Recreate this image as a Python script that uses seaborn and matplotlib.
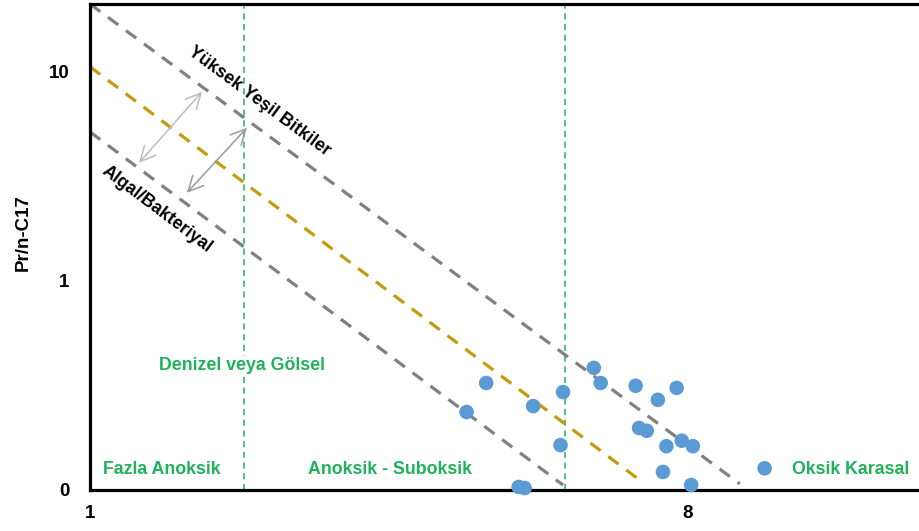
import numpy as np
import pandas as pd
import matplotlib
matplotlib.use("Agg")
import matplotlib.pyplot as plt
import seaborn as sns

# Sample measurements: Ph/n-C18 (x) and Pr/n-C17 (y)
ph_c18 = [5.64, 5.41, 6.19, 6.54, 6.51, 6.02, 6.09, 6.90, 6.98,
          7.39, 7.87, 7.65, 7.43, 7.52, 7.75, 7.93, 8.06, 7.71, 8.04, 8.90]
pr_c17 = [0.325, 0.236, 0.252, 0.294, 0.164, 0.1034, 0.1022, 0.384, 0.325,
          0.315, 0.308, 0.270, 0.198, 0.192, 0.162, 0.172, 0.162, 0.122, 0.1057, 0.127]

# Source boundary lines (end points)
upper_x = [1.0, 8.61]
upper_y = [21.1, 0.107]
mid_x = [1.0, 7.47]
mid_y = [10.57, 0.109]
lower_x = [1.0, 6.54]
lower_y = [5.16, 0.1056]

# Redox boundaries
redox_x = [2.80, 6.56]

x_ticks = [1, 8]
x_tick_labels = ["1", "8"]
y_ticks = [0.1, 1, 10]
y_tick_labels = ["0", "1", "10"]

sns.set_theme(style="white")
plt.rcParams["font.family"] = ["Liberation Sans", "DejaVu Sans"]

fig = plt.figure(figsize=(9.2, 5.31), dpi=100)
ax = fig.add_axes([90 / 920, 41 / 531, 830 / 920, 486 / 531])
ax.set_yscale("log")
ax.set_xlim(1, 10.72)
ax.set_ylim(0.1, 21.1)

green = "#1FB25A"
for xv in redox_x:
    ax.axvline(xv, color=green, lw=1.1, dashes=(4, 3), zorder=1)

gray = "#808080"
gold = "#C49A0E"
sns.lineplot(x=upper_x, y=upper_y, ax=ax, color=gray, lw=2.3, zorder=2).lines[-1].set_dashes((4, 3))
sns.lineplot(x=mid_x, y=mid_y, ax=ax, color=gold, lw=2.3, zorder=2).lines[-1].set_dashes((4, 3))
sns.lineplot(x=lower_x, y=lower_y, ax=ax, color=gray, lw=2.3, zorder=2).lines[-1].set_dashes((4, 3))

df = pd.DataFrame({"Ph/n-C18": ph_c18, "Pr/n-C17": pr_c17})
sns.scatterplot(data=df, x="Ph/n-C18", y="Pr/n-C17", ax=ax, color="#5B9BD5",
                s=110, edgecolor="none", zorder=5, clip_on=False)

# Double-headed arrows between source fields
ax.annotate("", xy=(2.311, 8.02), xytext=(1.574, 3.67),
            arrowprops=dict(arrowstyle="<->,head_length=0.9,head_width=0.45",
                            color="#BDBDBD", lw=1.1, shrinkA=0, shrinkB=0))
ax.annotate("", xy=(2.838, 5.40), xytext=(2.135, 2.64),
            arrowprops=dict(arrowstyle="<->,head_length=0.9,head_width=0.45",
                            color="#9A9A9A", lw=1.1, shrinkA=0, shrinkB=0))

ax.text(2.98, 7.19, "Yüksek Yeşil Bitkiler", rotation=-36.5, rotation_mode="anchor",
        ha="center", va="center", fontsize=12.8, fontweight="bold", color="black", zorder=6)
ax.text(1.784, 2.21, "Algal/Bakteriyal", rotation=-37, rotation_mode="anchor",
        ha="center", va="center", fontsize=12.8, fontweight="bold", color="black", zorder=6)

ax.text(2.779, 0.396, "Denizel veya Gölsel", ha="center", va="center", fontsize=12.8,
        fontweight="bold", color=green, zorder=6,
        bbox=dict(facecolor="white", edgecolor="none", pad=0.5))
ax.text(1.843, 0.126, "Fazla Anoksik", ha="center", va="center", fontsize=12.8,
        fontweight="bold", color=green, zorder=6)
ax.text(4.512, 0.1247, "Anoksik - Suboksik", ha="center", va="center", fontsize=12.8,
        fontweight="bold", color=green, zorder=6)
ax.text(9.908, 0.126, "Oksik Karasal", ha="center", va="center", fontsize=12.8,
        fontweight="bold", color=green, zorder=6)

ax.set_xticks(x_ticks)
ax.set_xticklabels(x_tick_labels)
ax.set_yticks(y_ticks)
ax.set_yticklabels(y_tick_labels)
ax.minorticks_off()
ax.tick_params(axis="both", length=0, labelsize=13.5, colors="black")
ax.tick_params(axis="y", pad=15)
ax.tick_params(axis="x", pad=11)
for lab in ax.get_xticklabels() + ax.get_yticklabels():
    lab.set_fontweight("bold")

ax.set_xlabel("")
ax.set_ylabel("Pr/n-C17", fontsize=13.5, fontweight="bold", color="black")
ax.yaxis.set_label_coords(-0.070, 0.529)

for side in ["left", "bottom", "top"]:
    ax.spines[side].set_visible(True)
    ax.spines[side].set_color("black")
    ax.spines[side].set_linewidth(2.3)
ax.spines["right"].set_visible(False)
ax.grid(False)

fig.savefig("out.png", dpi=100)
